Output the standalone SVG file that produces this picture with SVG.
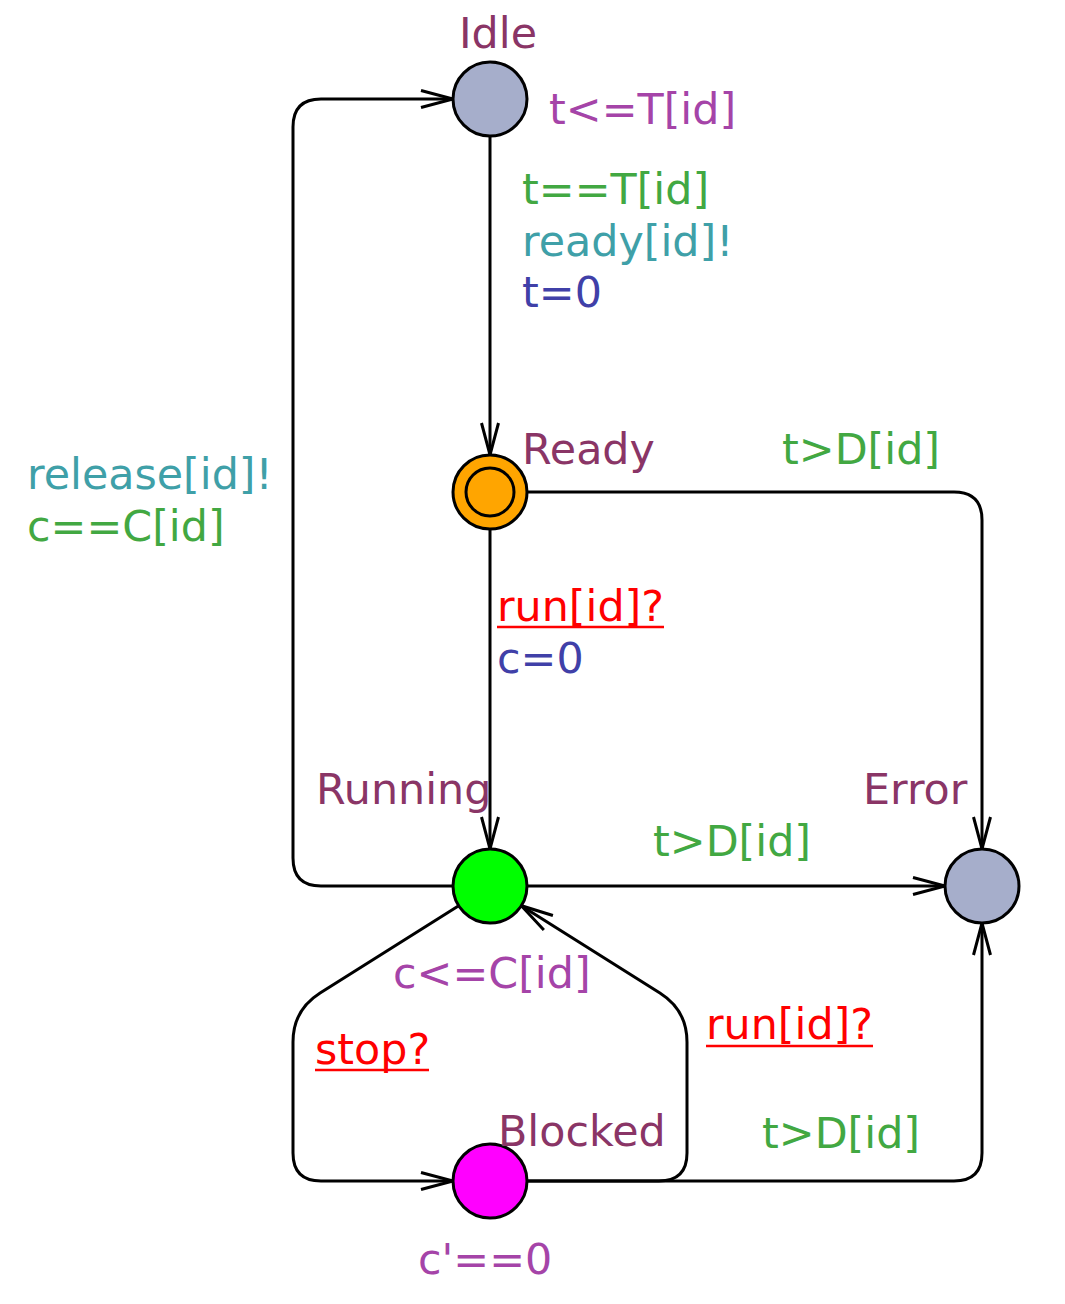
<svg xmlns="http://www.w3.org/2000/svg" width="1065" height="1304" viewBox="0 0 1065 1304">
<style>
text{font-family:"DejaVu Sans","Liberation Sans",sans-serif;font-size:42.8px}
.name{fill:#8a3566}
.inv{fill:#a544a8}
.guard{fill:#42a842}
.sync{fill:#3fa0a8}
.assign{fill:#4040a8}
.recv{fill:#ff0000}
.ul{stroke:#ff0000;stroke-width:2.5}
.edge{fill:none;stroke:#000;stroke-width:3;marker-end:url(#arr)}
.node{stroke:#000;stroke-width:3}
</style>
<defs>
<marker id="arr" markerUnits="userSpaceOnUse" orient="auto" markerWidth="40" markerHeight="24" viewBox="-36 -12 40 24" refX="0" refY="0" overflow="visible">
<path d="M-32,-8.5 L0,0 L-32,8.5" fill="none" stroke="#000" stroke-width="3"/>
</marker>
</defs>
<rect width="1065" height="1304" fill="#fff"/>
<g id="connectors">
<path class="edge" d="M490,136 V455"/>
<path class="edge" d="M527,492 H954 Q982,492 982,520 V849"/>
<path class="edge" d="M490,529 V849"/>
<path class="edge" d="M527,886 H945"/>
<path class="edge" d="M453,886 H321 Q293,886 293,858 V127 Q293,99 321,99 H453"/>
<path class="edge" d="M458.7,905.7 L320.1,992.9 Q293,1010 293,1042 V1153 Q293,1181 321,1181 H453"/>
<path class="edge" d="M527,1181 H659 Q687,1181 687,1153 V1042 Q687,1010 659.9,992.9 L521.3,905.7"/>
<path class="edge" d="M527,1181 H954 Q982,1181 982,1153 V923"/>
</g>
<g id="labels">
<text class="guard" x="522" y="204">t==T[id]</text>
<text class="sync" x="522" y="256">ready[id]!</text>
<text class="assign" x="522" y="307">t=0</text>
<text class="guard" x="782" y="464">t&gt;D[id]</text>
<text class="sync" x="27" y="489">release[id]!</text>
<text class="guard" x="27" y="541">c==C[id]</text>
<text class="recv" x="497" y="621">run[id]?</text>
<line class="ul" x1="497" y1="627" x2="664" y2="627"/>
<text class="assign" x="497" y="673">c=0</text>
<text class="guard" x="653" y="856">t&gt;D[id]</text>
<text class="recv" x="706" y="1039">run[id]?</text>
<line class="ul" x1="706" y1="1046" x2="873" y2="1046"/>
<text class="recv" x="315" y="1064">stop?</text>
<line class="ul" x1="315" y1="1070" x2="429" y2="1070"/>
<text class="guard" x="762" y="1148">t&gt;D[id]</text>
</g>
<g id="idle">
<circle class="node" cx="490" cy="99" r="37" fill="#a6aecb"/>
<text class="name" x="459" y="48">Idle</text>
<text class="inv" x="549" y="124">t&lt;=T[id]</text>
</g>
<g id="ready">
<circle class="node" cx="490" cy="492" r="37" fill="#ffa500"/>
<circle class="node" cx="490" cy="492" r="24" fill="#ffa500"/>
<text class="name" x="522" y="464">Ready</text>
</g>
<g id="running">
<circle class="node" cx="490" cy="886" r="37" fill="#00ff00"/>
<text class="name" x="316" y="804">Running</text>
<text class="inv" x="393" y="988">c&lt;=C[id]</text>
</g>
<g id="error">
<circle class="node" cx="982" cy="886" r="37" fill="#a6aecb"/>
<text class="name" x="863" y="804">Error</text>
</g>
<g id="blocked">
<circle class="node" cx="490" cy="1181" r="37" fill="#ff00ff"/>
<text class="name" x="498" y="1146">Blocked</text>
<text class="inv" x="418" y="1274">c'==0</text>
</g>
</svg>
